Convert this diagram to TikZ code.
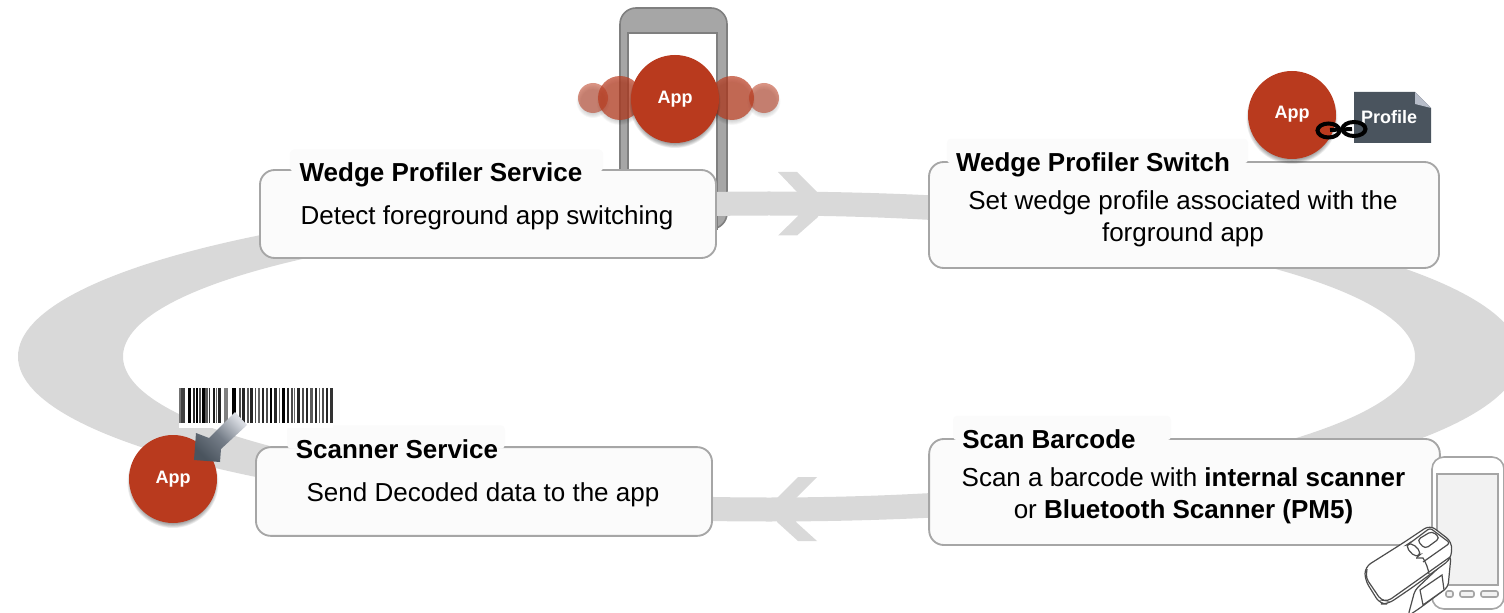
\documentclass[tikz,border=0pt]{standalone}
\usepackage{fontspec}
\setmainfont{Liberation Sans}
\usetikzlibrary{shadings}
\definecolor{band}{HTML}{D9D9D9}
\definecolor{appred}{HTML}{B93A1E}
\definecolor{boxline}{HTML}{A6A6A6}
\definecolor{boxfill}{HTML}{FBFBFB}
\definecolor{slate}{HTML}{4A545E}
\definecolor{foldc}{HTML}{B7BDC9}
\definecolor{phonegray}{HTML}{A6A6A6}
\definecolor{phoneline}{HTML}{7F7F7F}
\definecolor{scanline}{HTML}{4D4D4D}
\newcommand{\softshadow}[4]{%
  \foreach \s in {0,1,2,3,4,5}{
    \fill[black,opacity=#4] (#1,#2+3.5) circle ({#3+1.5-\s*0.8});
  }}
\tikzset{
  stepbox/.style={draw=boxline,line width=1.4pt,fill=boxfill,rounded corners=11pt,inner sep=0pt},
  bodytext/.style={align=center,inner sep=0pt,text=black,font=\fontsize{19.5}{24}\selectfont},
  titlepatch/.style={fill=boxfill,inner sep=0pt,rounded corners=3pt},
  boxtitle/.style={inner sep=0pt,text=black,font=\bfseries\fontsize{19.5}{24}\selectfont},
  appnode/.style={circle,fill=appred,text=white,inner sep=0pt,minimum size=66pt,font=\bfseries\fontsize{13.5}{16}\selectfont},
}
\begin{document}
\begin{tikzpicture}[x=0.75pt,y=-0.75pt]
\useasboundingbox (0,0) rectangle (1504,613);
% phone behind the ring
\draw[draw=phoneline,fill=phonegray,line width=1.2pt,rounded corners=12pt] (620,8) rectangle (727,229);
\draw[draw=phoneline,fill=white,line width=1.4pt] (628,33) rectangle (717,229);
% ring
\begin{scope}
\clip (0,0) rectangle (1504,613);
\fill[band,even odd rule] (769,356.5) ellipse [x radius=751,y radius=165]
      (769,356.5) ellipse [x radius=646,y radius=141];
\end{scope}
\fill[band] (778,172) -- (797,172) -- (818,193) -- (818,217) -- (797,235.5) -- (778,235.5) -- (798,216) -- (798,193) -- cycle;
\fill[band] (817,477) -- (798,477) -- (777,498) -- (777,522) -- (798,541) -- (817,541) -- (796,522) -- (796,498) -- cycle;
% floating app circles
\softshadow{593}{98}{15}{0.03}\softshadow{764}{98}{15}{0.03}
\softshadow{620}{98}{22}{0.03}\softshadow{732}{98}{22}{0.03}
\fill[appred,opacity=0.55] (593,98) circle (15);
\fill[appred,opacity=0.55] (764,98) circle (15);
\fill[appred,opacity=0.7] (620,98) circle (22);
\fill[appred,opacity=0.7] (732,98) circle (22);
\softshadow{675}{99}{44}{0.07}
\node[appnode] (app1) at (675,99) {App};
% step boxes
\node[stepbox,minimum width=342pt,minimum height=66pt] (b1) at (488,214) {};
\node[bodytext] (x1) at (487,218) {Detect foreground app switching};
\node[titlepatch,minimum width=235pt,minimum height=16.5pt] (p1) at (446.5,160.5) {};
\node[boxtitle] (t1) at (441,175) {Wedge Profiler Service};
\node[stepbox,minimum width=382.5pt,minimum height=79.5pt] (b2) at (1184,215) {};
\node[bodytext] (x2) at (1183,219) {Set wedge profile associated with the\\forground app};
\node[titlepatch,minimum width=226pt,minimum height=18.5pt] (p2) at (1097.5,151) {};
\node[boxtitle] (t2) at (1093,165) {Wedge Profiler Switch};
\node[stepbox,minimum width=342pt,minimum height=66.5pt] (b3) at (484,491.5) {};
\node[bodytext] (x3) at (483,494.5) {Send Decoded data to the app};
\node[titlepatch,minimum width=163.5pt,minimum height=17.5pt] (p3) at (396,437) {};
\node[boxtitle] (t3) at (397,449) {Scanner Service};
\node[stepbox,minimum width=383pt,minimum height=79.5pt] (b4) at (1184.5,492) {};
\node[bodytext] (x4) at (1183.5,496) {Scan a barcode with \textbf{internal scanner}\\or \textbf{Bluetooth Scanner (PM5)}};
\node[titlepatch,minimum width=163.5pt,minimum height=18.5pt] (p4) at (1062,428) {};
\node[boxtitle] (t4) at (1049,439) {Scan Barcode};
% profile
\softshadow{1292}{115}{44}{0.07}
\node[appnode] (app2) at (1292,115) {\raisebox{4pt}{App}};
\fill[slate] (1354,92) -- (1415,92) -- (1431,108) -- (1431,143) -- (1354,143) -- cycle;
\fill[foldc] (1415,92) -- (1431,108) -- (1415,104) -- cycle;
\node[font=\bfseries\fontsize{13.5}{16}\selectfont,text=white,inner sep=0pt] (prof) at (1389,117) {Profile};
\draw[black,line width=3pt] (1328.5,130.5) ellipse [x radius=11,y radius=7];
\draw[black,line width=3pt] (1354,129) ellipse [x radius=11.5,y radius=7];
\draw[black,line width=3pt] (1330,130) -- (1352,129);
% barcode
\fill[white] (179,388) rectangle (333,428);
\foreach \a/\w/\k in {179/2/55,181/4/75,188/3/100,193/2/85,196/2/100,199/2/70,202/3/100,205/3/65,209/1/80,213/2/90,216/1/60,218/3/85,224/4/50,232/4/100,239/2/70,242/3/85,247/2/65,250/3/85,255/1/70,258/2/60,262/2/85,266/2/70,270/2/100,274/3/85,279/1/60,282/3/100,287/2/85,291/2/70,294/1/60,297/3/85,302/2/70,306/2/85,310/3/65,315/2/85,319/1/60,322/2/70,326/2/85,330/3/80}{
  \fill[black!\k] (\a,388) rectangle (\a+\w,423);
}
% app 3
\softshadow{173}{479}{44}{0.07}
\node[appnode] (app3) at (173,479) {\raisebox{-2pt}{App}};
\shade[top color=foldc!50!white,bottom color=slate,middle color=slate!60!foldc,shading angle=-45]
  (235,412) -- (247,425) -- (221,449) -- (220,462) -- (194,460) -- (196,433) -- (209,438) -- cycle;
% device
\draw[draw=boxline,fill=white,line width=1.2pt,rounded corners=9pt] (1432,457) rectangle (1504,609);
\draw[draw=boxline,fill=black!5,line width=1.2pt] (1437,474) rectangle (1498,585);
\foreach \a/\b in {1446/1453,1460/1474,1481/1498}{
  \draw[draw=boxline,fill=black!5,line width=1.2pt,rounded corners=1.5pt] (\a,591) rectangle (\b,597);
}
% scanner
\draw[scanline,fill=white,line width=0.9pt,line join=round,rounded corners=3pt]
  (1415,590) -- (1408,616) -- (1420,608) -- (1448,587) -- (1451,556) -- cycle;
\draw[scanline,fill=white,line width=0.9pt,line join=round,rounded corners=5pt]
  (1365,567) -- (1403,543) -- (1430,525) -- (1452,542) -- (1451,559) -- (1413,587) -- (1388,604) -- (1380,604) -- (1365,580) -- cycle;
\draw[scanline,line width=0.9pt,rounded corners=3pt] (1367,569) -- (1366,578) -- (1381,600) -- (1388,601) -- (1450,557);
\draw[scanline,line width=0.9pt,rounded corners=2pt] (1410,543) -- (1430,528) -- (1450,543) -- (1423,562);
\draw[scanline,fill=white,line width=0.9pt,rounded corners=3pt] (1417,540) -- (1432,531) -- (1440,538) -- (1425,549) -- cycle;
\draw[scanline,fill=white,line width=0.9pt,rounded corners=4pt] (1405,546) -- (1411,542) -- (1422,553) -- (1416,558) -- cycle;
\draw[scanline,line width=0.9pt] (1416,558) -- (1423,558) .. controls (1426,563) and (1428,568) .. (1429,574);
\draw[scanline,fill=white,line width=0.9pt] (1420,590) -- (1442,575) -- (1444,590) -- (1423,605) -- cycle;
\end{tikzpicture}
\end{document}
